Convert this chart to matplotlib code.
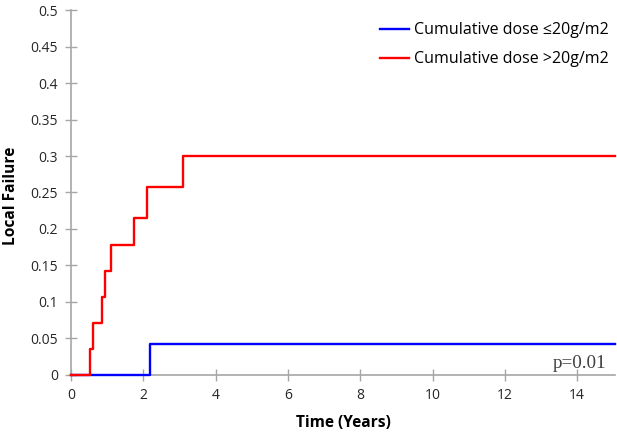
import numpy as np
import matplotlib.pyplot as plt

# step curves (time in years, cumulative local failure)
low_t = [0, 2.19, 15.05]
low_y = [0, 0.042, 0.042]
high_t = [0, 0.53, 0.62, 0.86, 0.93, 1.11, 1.73, 2.09, 3.10, 15.05]
high_y = [0, 0.036, 0.071, 0.107, 0.142, 0.178, 0.215, 0.258, 0.30, 0.30]

labels = ['Cumulative dose \u226420g/m2', 'Cumulative dose >20g/m2']
xticks = [0, 2, 4, 6, 8, 10, 12, 14]
yticks = np.arange(0, 0.51, 0.05)

plt.rcParams['font.family'] = ['Open Sans', 'DejaVu Sans']

fig = plt.figure(figsize=(6.17, 4.36), dpi=100)
ax = fig.add_axes([0.115, 0.14, 0.882, 0.837])

ax.step(low_t, low_y, where='post', color='#0000ff', lw=1.7, label=labels[0],
        zorder=3)
ax.step(high_t, high_y, where='post', color='#ff0000', lw=1.7, label=labels[1],
        zorder=4)

ax.set_xlim(0, 15.05)
ax.set_ylim(0, 0.5)
ax.set_xticks(xticks)
ax.set_yticks(yticks)
ax.set_yticklabels(['0'] + ['%g' % v for v in yticks[1:]])

for s in ['top', 'right']:
    ax.spines[s].set_visible(False)
for s in ['left', 'bottom']:
    ax.spines[s].set_color('#a6a6a6')
    ax.spines[s].set_linewidth(1.2)
ax.tick_params(direction='inout', length=9, width=1, color='#a6a6a6',
               labelsize=10, labelcolor='#262626', pad=5)
ax.patch.set_visible(False)
for ln in ax.lines:
    ln.set_clip_on(False)

ax.set_xlabel('Time (Years)', fontsize=11.2, fontweight='bold')
ax.set_ylabel('Local Failure', fontsize=11.2, fontweight='bold')
ax.xaxis.set_label_coords(0.5, -0.11)
ax.yaxis.set_label_coords(-0.095, 0.49)

ax.legend(loc='upper left', frameon=False, fontsize=11.5, handlelength=1.8,
          handletextpad=0.3, labelspacing=0.8,
          bbox_to_anchor=(366 / 617, 1 - 8 / 436),
          bbox_transform=fig.transFigure)

ax.text(14.8, 0.01, 'p=0.01', family='Liberation Serif', fontsize=13.8,
        color='#404040', ha='right', va='baseline')

fig.savefig('out.png')
